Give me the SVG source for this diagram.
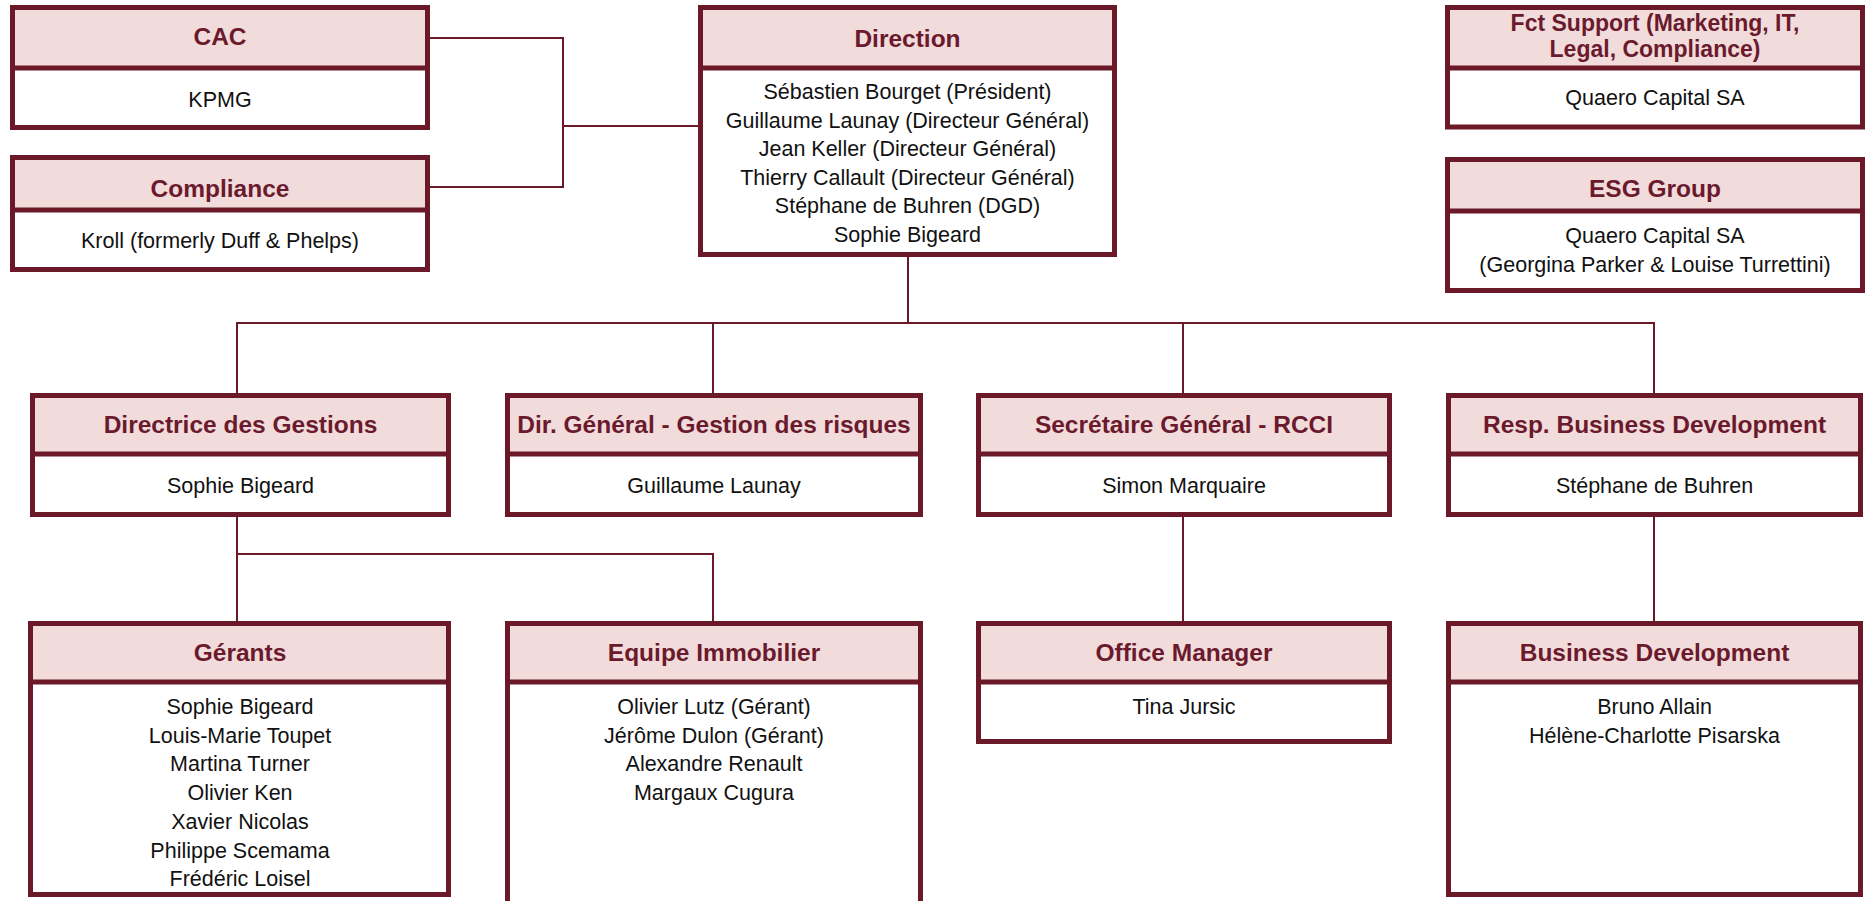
<svg xmlns="http://www.w3.org/2000/svg" width="1871" height="901" viewBox="0 0 1871 901">
<style>
.hd{fill:#F2DCDB;stroke:#6B1829;stroke-width:5}
.bd{fill:#FFFFFF;stroke:#6B1829;stroke-width:5}
.ht{font-family:"Liberation Sans",Arial,sans-serif;font-weight:bold;font-size:24.5px;fill:#6B1A2E;text-anchor:middle}
.hs{font-size:23px}
.bt{font-family:"Liberation Sans",Arial,sans-serif;font-size:21.5px;fill:#111111;text-anchor:middle}
.cn{fill:none;stroke:#6B1829;stroke-width:2}
</style>
<rect width="1871" height="901" fill="#FFFFFF"/>
<g id="connectors">
<path class="cn" d="M430,38 H563 V187 H430"/>
<path class="cn" d="M563,126 H698"/>
<path class="cn" d="M908,257 V323"/>
<path class="cn" d="M237,393 V323 H1654 V393"/>
<path class="cn" d="M713,323 V393"/>
<path class="cn" d="M1183,323 V393"/>
<path class="cn" d="M237,517 V621"/>
<path class="cn" d="M237,554 H713 V621"/>
<path class="cn" d="M1183,517 V621"/>
<path class="cn" d="M1654,517 V621"/>
</g>
<g id="cac">
<rect class="bd" x="12.5" y="7.5" width="415" height="120"/>
<rect class="hd" x="12.5" y="7.5" width="415" height="60.5"/>
<text class="ht" x="220" y="45">CAC</text>
<text class="bt" x="220" y="107">KPMG</text>
</g>
<g id="compliance">
<rect class="bd" x="12.5" y="157.5" width="415" height="112"/>
<rect class="hd" x="12.5" y="157.5" width="415" height="52.5"/>
<text class="ht" x="220" y="197">Compliance</text>
<text class="bt" x="220" y="248">Kroll (formerly Duff &amp; Phelps)</text>
</g>
<g id="direction">
<rect class="bd" x="700.5" y="7.5" width="414" height="247"/>
<rect class="hd" x="700.5" y="7.5" width="414" height="60.5"/>
<text class="ht" x="907.5" y="47">Direction</text>
<text class="bt" x="907.5" y="99">Sébastien Bourget (Président)</text>
<text class="bt" x="907.5" y="127.5">Guillaume Launay (Directeur Général)</text>
<text class="bt" x="907.5" y="156">Jean Keller (Directeur Général)</text>
<text class="bt" x="907.5" y="184.5">Thierry Callault (Directeur Général)</text>
<text class="bt" x="907.5" y="213">Stéphane de Buhren (DGD)</text>
<text class="bt" x="907.5" y="241.5">Sophie Bigeard</text>
</g>
<g id="fct-support">
<rect class="bd" x="1447.5" y="7.5" width="415" height="119.5"/>
<rect class="hd" x="1447.5" y="7.5" width="415" height="60.5"/>
<text class="ht hs" x="1655" y="31">Fct Support (Marketing, IT,</text>
<text class="ht hs" x="1655" y="57">Legal, Compliance)</text>
<text class="bt" x="1655" y="105">Quaero Capital SA</text>
</g>
<g id="esg-group">
<rect class="bd" x="1447.5" y="159.5" width="415" height="131"/>
<rect class="hd" x="1447.5" y="159.5" width="415" height="51.5"/>
<text class="ht" x="1655" y="197">ESG Group</text>
<text class="bt" x="1655" y="243">Quaero Capital SA</text>
<text class="bt" x="1655" y="272">(Georgina Parker &amp; Louise Turrettini)</text>
</g>
<g id="directrice">
<rect class="bd" x="32.5" y="395.5" width="416" height="119"/>
<rect class="hd" x="32.5" y="395.5" width="416" height="58.5"/>
<text class="ht" x="240.5" y="433">Directrice des Gestions</text>
<text class="bt" x="240.5" y="493">Sophie Bigeard</text>
</g>
<g id="dir-general">
<rect class="bd" x="507.5" y="395.5" width="413" height="119"/>
<rect class="hd" x="507.5" y="395.5" width="413" height="58.5"/>
<text class="ht" x="714" y="433">Dir. Général - Gestion des risques</text>
<text class="bt" x="714" y="493">Guillaume Launay</text>
</g>
<g id="secretaire">
<rect class="bd" x="978.5" y="395.5" width="411" height="119"/>
<rect class="hd" x="978.5" y="395.5" width="411" height="58.5"/>
<text class="ht" x="1184" y="433">Secrétaire Général - RCCI</text>
<text class="bt" x="1184" y="493">Simon Marquaire</text>
</g>
<g id="resp-bd">
<rect class="bd" x="1448.5" y="395.5" width="412" height="119"/>
<rect class="hd" x="1448.5" y="395.5" width="412" height="58.5"/>
<text class="ht" x="1654.5" y="433">Resp. Business Development</text>
<text class="bt" x="1654.5" y="493">Stéphane de Buhren</text>
</g>
<g id="gerants">
<rect class="bd" x="30.5" y="623.5" width="418" height="271"/>
<rect class="hd" x="30.5" y="623.5" width="418" height="58.5"/>
<text class="ht" x="240" y="661">Gérants</text>
<text class="bt" x="240" y="714">Sophie Bigeard</text>
<text class="bt" x="240" y="742.7">Louis-Marie Toupet</text>
<text class="bt" x="240" y="771.4">Martina Turner</text>
<text class="bt" x="240" y="800.1">Olivier Ken</text>
<text class="bt" x="240" y="828.8">Xavier Nicolas</text>
<text class="bt" x="240" y="857.5">Philippe Scemama</text>
<text class="bt" x="240" y="886.2">Frédéric Loisel</text>
</g>
<g id="equipe-immobilier">
<rect class="bd" x="507.5" y="623.5" width="413" height="300"/>
<rect class="hd" x="507.5" y="623.5" width="413" height="58.5"/>
<text class="ht" x="714" y="661">Equipe Immobilier</text>
<text class="bt" x="714" y="714">Olivier Lutz (Gérant)</text>
<text class="bt" x="714" y="742.7">Jérôme Dulon (Gérant)</text>
<text class="bt" x="714" y="771.4">Alexandre Renault</text>
<text class="bt" x="714" y="800.1">Margaux Cugura</text>
</g>
<g id="office-manager">
<rect class="bd" x="978.5" y="623.5" width="411" height="118"/>
<rect class="hd" x="978.5" y="623.5" width="411" height="58.5"/>
<text class="ht" x="1184" y="661">Office Manager</text>
<text class="bt" x="1184" y="714">Tina Jursic</text>
</g>
<g id="business-development">
<rect class="bd" x="1448.5" y="623.5" width="412" height="271"/>
<rect class="hd" x="1448.5" y="623.5" width="412" height="58.5"/>
<text class="ht" x="1654.5" y="661">Business Development</text>
<text class="bt" x="1654.5" y="714">Bruno Allain</text>
<text class="bt" x="1654.5" y="742.7">Hélène-Charlotte Pisarska</text>
</g>
</svg>
